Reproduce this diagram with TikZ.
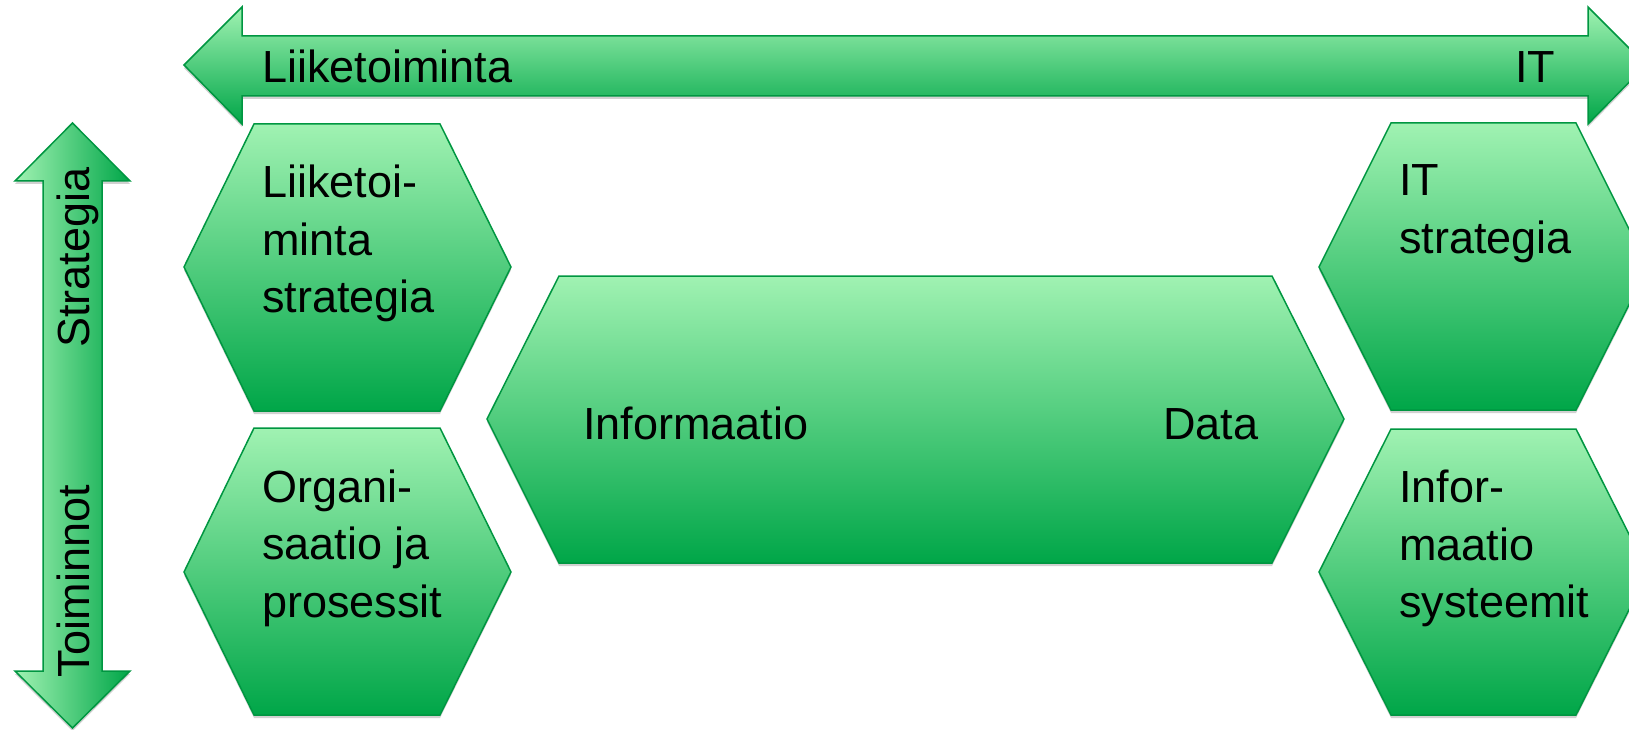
\documentclass[tikz,border=0pt]{standalone}
\usepackage{fontspec}
\setmainfont{Liberation Sans}
\usetikzlibrary{shadows}
\definecolor{gtop}{RGB}{160,242,178}
\definecolor{gmid}{RGB}{106,210,134}
\definecolor{gbot}{RGB}{0,166,72}
\definecolor{gline}{RGB}{0,150,65}
\tikzset{
  vshape/.style={draw=gline, line width=1.5pt, line join=miter, top color=gtop, middle color=gmid, bottom color=gbot,
     drop shadow={shadow xshift=0pt, shadow yshift=-3pt, opacity=0.18, fill=black}},
  hshape/.style={draw=gline, line width=1.5pt, line join=miter, left color=gtop, middle color=gmid, right color=gbot,
     drop shadow={shadow xshift=0pt, shadow yshift=-3pt, opacity=0.18, fill=black}},
  lbl/.style={anchor=base west, inner sep=0pt, text=black, font=\fontsize{45}{54}\selectfont},
}
\begin{document}
\begin{tikzpicture}[x=1pt,y=-1pt]
\useasboundingbox (0,0) rectangle (1629,730);
\clip (0,0) rectangle (1629,730);
% top double arrow
\path[vshape] (184,65) -- (242,7) -- (242,36) -- (1588,36) -- (1588,7) -- (1646,65) -- (1588,124) -- (1588,96) -- (242,96) -- (242,124) -- cycle;
% vertical double arrow
\path[hshape] (72.5,123) -- (130,181) -- (102,181) -- (102,671) -- (130,671) -- (72.5,728) -- (15,671) -- (43,671) -- (43,181) -- (15,181) -- cycle;
% hexagons
\path[vshape] (184,267) -- (254,124) -- (440,124) -- (511,267) -- (440,411) -- (254,411) -- cycle;
\path[vshape] (184,572) -- (254,428) -- (440,428) -- (511,572) -- (440,715) -- (254,715) -- cycle;
\path[vshape] (1319,267) -- (1391,123) -- (1576,123) -- (1648,267) -- (1576,410) -- (1391,410) -- cycle;
\path[vshape] (1319,572) -- (1391,429) -- (1576,429) -- (1648,572) -- (1576,715) -- (1391,715) -- cycle;
\path[vshape] (487,419) -- (559,276) -- (1272,276) -- (1344,419) -- (1272,563) -- (559,563) -- cycle;
% texts
\node[lbl] (tl) at (262,83) {Liiketoiminta};
\node[lbl] (tr) at (1515,83) {IT};
\node[lbl, rotate=90] (vs) at (89,348) {Strategia};
\node[lbl, rotate=90] (vt) at (89,678) {Toiminnot};
\node[lbl] (a1) at (262,197) {Liiketoi-};
\node[lbl] (a2) at (262,255) {minta};
\node[lbl] (a3) at (262,312) {strategia};
\node[lbl] (b1) at (262,502) {Organi-};
\node[lbl] (b2) at (262,559) {saatio ja};
\node[lbl] (b3) at (262,617) {prosessit};
\node[lbl] (c1) at (1399,195) {IT};
\node[lbl] (c2) at (1399,253) {strategia};
\node[lbl] (d1) at (1399,502) {Infor-};
\node[lbl] (d2) at (1399,560) {maatio};
\node[lbl] (d3) at (1399,617) {systeemit};
\node[lbl] (e1) at (583,439) {Informaatio};
\node[lbl] (e2) at (1163,439) {Data};
\end{tikzpicture}
\end{document}
